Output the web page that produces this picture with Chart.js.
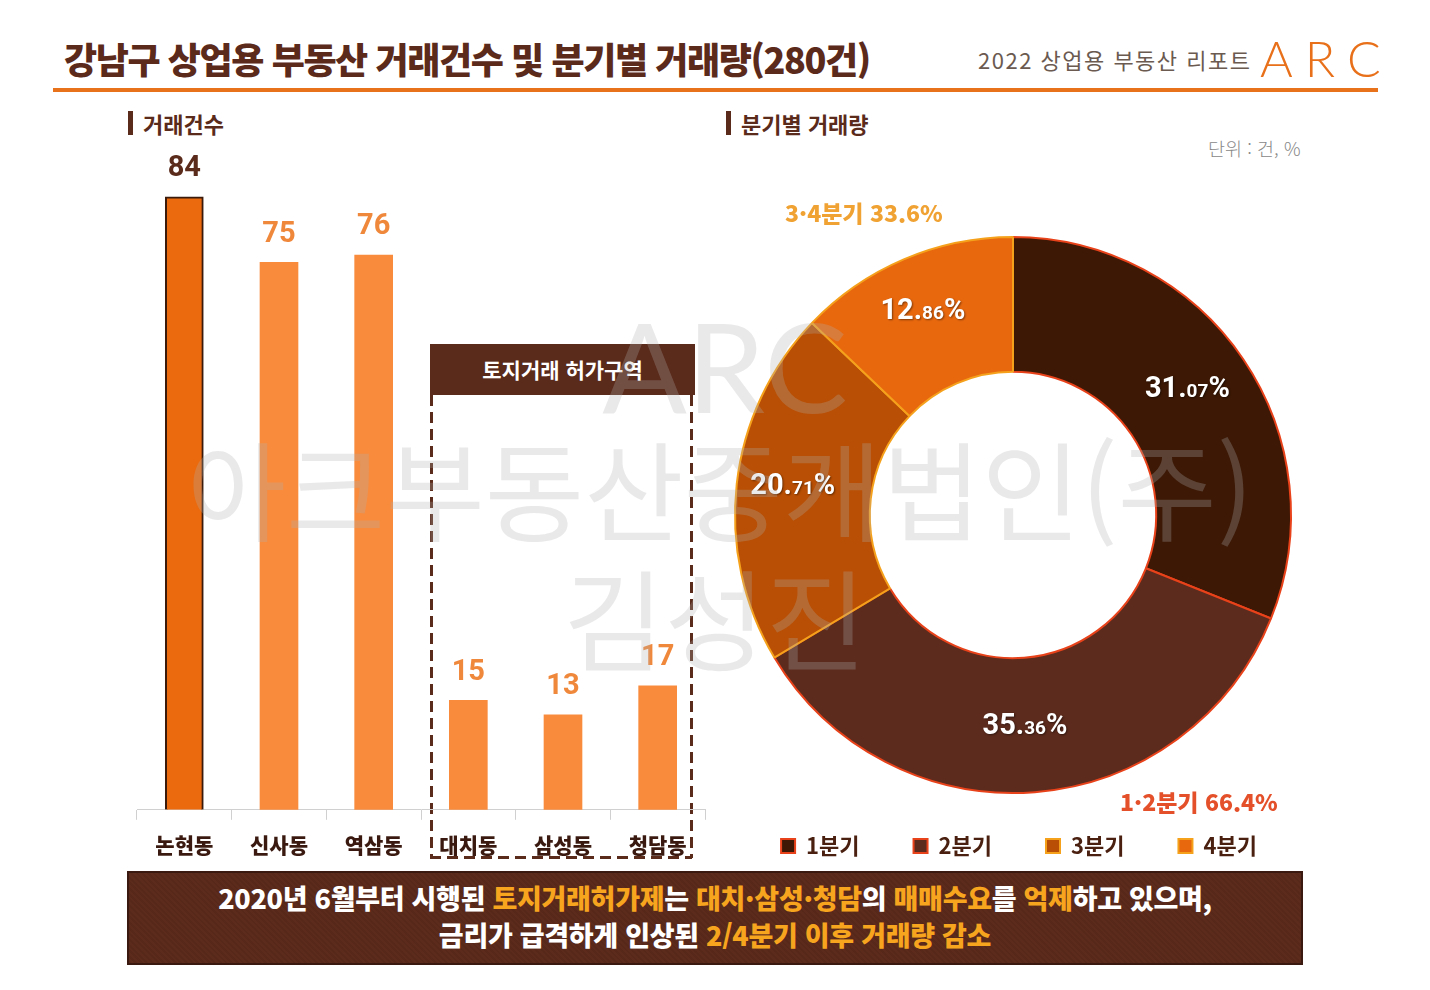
<!DOCTYPE html>
<html lang="ko">
<head>
<meta charset="utf-8">
<script src="https://cdn.jsdelivr.net/npm/chart.js@4.4.1/dist/chart.umd.min.js"></script>
<style>
  body { margin: 0; background: #fff; font-family: "Noto Sans CJK KR", sans-serif; }
  #page { position: relative; width: 1430px; height: 990px; overflow: hidden; background: #fff; }
  .abs { position: absolute; }
  #title { left: 64px; top: 32px; font-size: 36px; font-weight: 900; color: #5b2a1a; letter-spacing: -1.4px; white-space: nowrap; }
  #rule { left: 53px; top: 88px; width: 1325px; height: 4px; background: #e8721c; }
  #sub { left: 978px; top: 43px; font-size: 22px; color: #6b5a50; letter-spacing: 1.5px; white-space: nowrap; }
  #logo { left: 1260px; top: 28px; font-family: Lato, sans-serif; font-weight: 300; font-size: 50px; color: #e8701a; letter-spacing: 12px; white-space: nowrap; }
  .sect { font-size: 22px; font-weight: 700; color: #5a2a1a; white-space: nowrap; padding-left: 10px; border-left: 5px solid #5a2a1a; line-height: 24px; }
  #unit { left: 1208px; top: 135px; font-size: 18.5px; font-weight: 300; color: #888; white-space: nowrap; }
  #barWrap { left: 100px; top: 60px; width: 620px; height: 813px; }
  #pieWrap { left: 713px; top: 226px; width: 600px; height: 654px; }
  .vdash { width: 3px; height: 463px; top: 395px; background: repeating-linear-gradient(to bottom, #5a2a1a 0 11px, transparent 11px 17px); }
  .hdash { height: 3px; width: 262px; left: 430px; top: 856px; background: repeating-linear-gradient(to right, #5a2a1a 0 11px, transparent 11px 17px); }
  #zoneHead { left: 430px; top: 344px; width: 265px; height: 51px; background: #5a2a1a; color: #fff; font-size: 21px; font-weight: 700; text-align: center; line-height: 50px; }
  .note { font-size: 23px; font-weight: 900; white-space: nowrap; }
  #box { left: 127px; top: 871px; width: 1172px; height: 84px; background-color: #5c2b1b;
         background-image: repeating-linear-gradient(45deg, rgba(0,0,0,0.06) 0 2px, transparent 2px 4px);
         border: 2px solid #3a1a10; color: #fff; font-size: 27px; font-weight: 900; text-align: center; line-height: 37px; padding-top: 6px; letter-spacing: -0.3px; }
  #box b { color: #f7a51f; font-weight: 900; }
  #wm { left: 0; top: 0; width: 1430px; height: 990px; pointer-events: none; color: rgba(175,175,175,0.28); text-align: center; }
  #wm div { position: absolute; left: 0; width: 1430px; white-space: nowrap; }
</style>
</head>
<body>
<div id="page">
  <div id="title" class="abs">강남구 상업용 부동산 거래건수 및 분기별 거래량(280건)</div>
  <div id="sub" class="abs">2022 상업용 부동산 리포트</div>
  <div id="logo" class="abs">ARC</div>
  <div id="rule" class="abs"></div>

  <div class="abs sect" style="left:128px; top:111px;">거래건수</div>
  <div class="abs sect" style="left:726px; top:111px;">분기별 거래량</div>
  <div id="unit" class="abs">단위 : 건, %</div>

  <div class="abs vdash" style="left:430px;"></div>
  <div class="abs vdash" style="left:690px;"></div>
  <div class="abs hdash"></div>
  <div id="zoneHead" class="abs">토지거래 허가구역</div>

  <div id="barWrap" class="abs"><canvas id="barChart"></canvas></div>
  <div id="pieWrap" class="abs"><canvas id="pieChart"></canvas></div>

  <div id="noteTop" class="abs note" style="left:785px; top:195px; color:#f0a232;"></div>
  <div id="noteBottom" class="abs note" style="left:1120px; top:784px; color:#e4502a;"></div>

  <div id="box" class="abs">
    2020년 6월부터 시행된 <b>토지거래허가제</b>는 <b>대치·삼성·청담</b>의 <b>매매수요</b>를 <b>억제</b>하고 있으며,<br>
    금리가 급격하게 인상된 <b>2/4분기 이후 거래량 감소</b>
  </div>

  <div id="wm" class="abs">
    <div style="top:290px; font-family:Lato, sans-serif; font-size:125px; font-weight:400; left:10px;">ARC</div>
    <div style="top:408px; font-size:108px; font-weight:400; left:5px;">아크부동산중개법인(주)</div>
    <div style="top:535px; font-size:110px; font-weight:400; left:0;">김성진</div>
  </div>
</div>

<script>
// 거래건수 (동별)
const dongs = ['논현동', '신사동', '역삼동', '대치동', '삼성동', '청담동'];
const counts = [84, 75, 76, 15, 13, 17];

// 분기별 거래량 (%)
const quarters = ['1분기', '2분기', '3분기', '4분기'];
const shares = [31.07, 35.36, 20.71, 12.86];

document.getElementById('noteTop').textContent =
    '3·4분기 ' + (shares[2] + shares[3]).toFixed(1) + '%';
document.getElementById('noteBottom').textContent =
    '1·2분기 ' + (shares[0] + shares[1]).toFixed(1) + '%';

const KR = '"Noto Sans CJK KR", sans-serif';

// 막대 위 값 표시
const barLabels = {
    id: 'barLabels',
    afterDatasetsDraw(chart) {
        const ctx = chart.ctx;
        const meta = chart.getDatasetMeta(0);
        ctx.save();
        ctx.font = '700 29px Roboto, sans-serif';
        ctx.textAlign = 'center';
        ctx.textBaseline = 'middle';
        meta.data.forEach(function(bar, i) {
            ctx.fillStyle = i === 0 ? '#5a2a1a' : '#f0883c';
            ctx.fillText(counts[i], bar.x, bar.y - 28);
        });
        ctx.restore();
    }
};

new Chart(document.getElementById('barChart'), {
    type: 'bar',
    data: {
        labels: dongs,
        datasets: [{
            data: counts,
            backgroundColor: ['#eb6a0e', '#f98b3c', '#f98b3c', '#f98b3c', '#f98b3c', '#f98b3c'],
            borderColor: ['#3a1a0a', 'rgba(0,0,0,0)', 'rgba(0,0,0,0)', 'rgba(0,0,0,0)', 'rgba(0,0,0,0)', 'rgba(0,0,0,0)'],
            borderWidth: [2, 0, 0, 0, 0, 0],
            barThickness: 38
        }]
    },
    options: {
        responsive: true,
        maintainAspectRatio: false,
        animation: false,
        layout: { padding: { left: 37, right: 15, top: 20, bottom: 2 } },
        plugins: { legend: { display: false }, tooltip: { enabled: false } },
        scales: {
            y: { display: false, min: 0, max: 100 },
            x: {
                grid: { display: true, drawOnChartArea: false, drawTicks: true, tickLength: 10, color: '#d0d0d0', offset: true },
                border: { display: true, color: '#d0d0d0' },
                ticks: { color: '#3a1a10', padding: 13, font: { family: KR, size: 21, weight: '900' } }
            }
        }
    },
    plugins: [barLabels]
});

// 도넛 안쪽 퍼센트 (소수점 아래는 작게)
const pieLabels = {
    id: 'pieLabels',
    afterLayout(chart) {
        // 범례 위치 미세 조정
        chart.legend.top -= 13;
        chart.legend.bottom -= 13;
        chart.legend.left += 6;
        chart.legend.right += 6;
    },
    afterDatasetsDraw(chart) {
        const ctx = chart.ctx;
        const meta = chart.getDatasetMeta(0);
        ctx.save();
        ctx.textBaseline = 'alphabetic';
        ctx.shadowColor = 'rgba(0,0,0,0.45)';
        ctx.shadowOffsetX = 1;
        ctx.shadowOffsetY = 1;
        ctx.shadowBlur = 2;
        ctx.fillStyle = '#ffffff';
        meta.data.forEach(function(arc, i) {
            const p = arc.getProps(['x', 'y', 'startAngle', 'endAngle', 'innerRadius', 'outerRadius']);
            const mid = (p.startAngle + p.endAngle) / 2;
            const r = (p.innerRadius + p.outerRadius) / 2 + 6;
            const cx = p.x + Math.cos(mid) * r - 5;
            const cy = p.y + Math.sin(mid) * r;
            const parts = shares[i].toFixed(2).split('.');
            const big = '700 29px Roboto, sans-serif';
            const small = '700 19px Roboto, sans-serif';
            ctx.font = big;
            const w1 = ctx.measureText(parts[0] + '.').width;
            const w3 = ctx.measureText('%').width;
            ctx.font = small;
            const w2 = ctx.measureText(parts[1]).width;
            let x = cx - (w1 + w2 + w3) / 2;
            const y = cy + 3;
            ctx.textAlign = 'left';
            ctx.font = big;
            ctx.fillText(parts[0] + '.', x, y);
            x += w1;
            ctx.font = small;
            ctx.fillText(parts[1], x, y);
            x += w2;
            ctx.font = big;
            ctx.fillText('%', x, y);
        });
        ctx.restore();
    }
};

new Chart(document.getElementById('pieChart'), {
    type: 'doughnut',
    data: {
        labels: quarters,
        datasets: [{
            data: shares,
            backgroundColor: ['#3c1805', '#5c2b1d', '#b94f04', '#e8680e'],
            borderColor: ['#e8421a', '#e8421a', '#f5a11c', '#f5a11c'],
            borderWidth: 2,
            hoverOffset: 0
        }]
    },
    options: {
        responsive: true,
        maintainAspectRatio: false,
        animation: false,
        cutout: '51.5%',
        layout: { padding: { top: 10 } },
        plugins: {
            tooltip: { enabled: false },
            legend: {
                position: 'bottom',
                labels: {
                    boxWidth: 14,
                    boxHeight: 14,
                    padding: 54,
                    color: '#4a2010',
                    font: { family: KR, size: 22, weight: '700' }
                }
            }
        }
    },
    plugins: [pieLabels]
});
</script>
</body>
</html>
